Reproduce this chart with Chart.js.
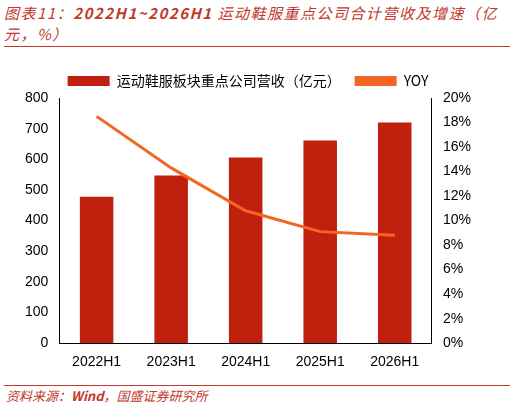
<!DOCTYPE html><html><head><meta charset="utf-8">
<script src="https://cdn.jsdelivr.net/npm/chart.js@4"></script>
<style>
body{margin:0;width:515px;height:410px;background:#fff;font-family:"Noto Sans CJK SC",sans-serif;position:relative;overflow:hidden}
#t{position:absolute;left:4px;top:2px;width:500px;color:#C0392B;font-size:15px;font-style:italic;line-height:21px;letter-spacing:1.5px}
#l1{position:absolute;left:4px;top:46px;width:506px;border-top:1.5px solid #C0392B}
#l2{position:absolute;left:4px;top:385px;width:506px;border-top:1px solid #C0392B}
#s{position:absolute;left:6px;top:386px;color:#C0392B;font-size:13px;font-style:italic}
#c{position:absolute;left:22px;top:60px;width:452px;height:314px}
</style></head><body>
<div id="t">图表11：<b>2022H1~2026H1</b> 运动鞋服重点公司合计营收及增速（亿元，%）</div>
<div id="l1"></div>
<div id="c"><canvas id="cv"></canvas></div>
<div id="l2"></div>
<div id="s">资料来源：<b>Wind</b>，国盛证券研究所</div>
<script>
const categories=["2022H1","2023H1","2024H1","2025H1","2026H1"];
const revenue=[478,547,606,661,720];
const yoy=[18.5,14.3,10.8,9.1,8.8];
const leftTicks=[0,100,200,300,400,500,600,700,800];
new Chart(document.getElementById('cv'),{
data:{labels:categories,datasets:[
{type:'bar',label:'运动鞋服板块重点公司营收（亿元）',data:revenue,backgroundColor:'#C0210F',yAxisID:'y',barPercentage:0.45,categoryPercentage:1,order:2},
{type:'line',label:'YOY',data:yoy,borderColor:'#F26522',backgroundColor:'#F26522',borderWidth:3,pointRadius:0,yAxisID:'y1',tension:0,order:1}
]},
options:{responsive:true,maintainAspectRatio:false,animation:false,
layout:{padding:{left:0,right:0,top:0,bottom:0}},
plugins:{legend:{position:'top',labels:{font:{size:14,family:"Noto Sans CJK SC"},color:'#000',boxWidth:42,boxHeight:10,padding:14,
generateLabels:(ch)=>ch.data.datasets.map((d,i)=>({text:d.label,fillStyle:d.borderColor||d.backgroundColor,strokeStyle:i==1?'#F26522':'#C0210F',lineWidth:0,datasetIndex:i,fontColor:'#000'}))}},tooltip:{enabled:false}},
scales:{
x:{grid:{display:false},border:{color:'#000'},ticks:{color:'#000',font:{size:14,family:"Arial"}}},
y:{min:0,max:800,afterBuildTicks:a=>{a.ticks=leftTicks.map(v=>({value:v}))},grid:{display:false},border:{color:'#000'},ticks:{color:'#000',font:{size:14,family:"Arial"}}},
y1:{position:'right',min:0,max:20,grid:{display:false},border:{color:'#000'},ticks:{stepSize:2,color:'#000',font:{size:14,family:"Arial"},callback:v=>v+'%'}}
}}});
</script></body></html>
